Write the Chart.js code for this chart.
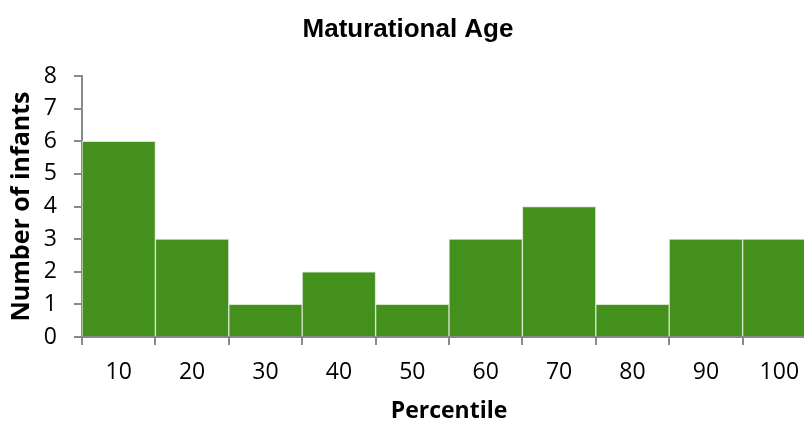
<!DOCTYPE html>
<html>
<head>
<meta charset="utf-8">
<script src="https://cdn.jsdelivr.net/npm/chart.js@4.4.1/dist/chart.umd.min.js"></script>
<style>
  html, body { margin: 0; padding: 0; background: #fff; overflow: hidden; }
  /* the original plot runs past the right edge, so the canvas is wider than the window */
  #clip { width: 804px; height: 421px; overflow: hidden; }
  #wrap { width: 816px; height: 421px; }
</style>
</head>
<body>
<div id="clip"><div id="wrap"><canvas id="chart"></canvas></div></div>
<script>
const PERCENTILES = ["10", "20", "30", "40", "50", "60", "70", "80", "90", "100"];
const INFANTS     = [6, 3, 1, 2, 1, 3, 4, 1, 3, 3];
const Y_MAX = 8;

const BAR_COLOR  = "#43901d";
const EDGE_COLOR = "#d9e6cf";
const AXIS_COLOR = "#8a8a8a";
const TICK_FONT  = { family: "'Open Sans', sans-serif", size: 23 };

new Chart(document.getElementById("chart"), {
  type: "bar",
  data: {
    labels: PERCENTILES,
    datasets: [{
      data: INFANTS,
      backgroundColor: BAR_COLOR,
      borderColor: EDGE_COLOR,
      borderWidth: 1,
      categoryPercentage: 1.0,
      barPercentage: 1.0,
    }],
  },
  options: {
    responsive: true,
    maintainAspectRatio: false,
    animation: false,
    layout: { padding: 0 },
    plugins: {
      legend: { display: false },
      tooltip: { enabled: false },
      title: {
        display: true,
        text: "Maturational Age",
        color: "#000",
        font: { family: "'Liberation Sans', Arial, sans-serif", size: 26, weight: "bold" },
        padding: { top: 14, bottom: 30.8 },
      },
    },
    scales: {
      x: {
        offset: true,
        grid: { offset: true, drawOnChartArea: false, tickLength: 8, color: AXIS_COLOR, lineWidth: 2 },
        border: { color: AXIS_COLOR, width: 2 },
        ticks: { color: "#000", font: TICK_FONT, padding: 14, maxRotation: 0 },
        title: {
          display: true,
          text: "Percentile",
          color: "#000",
          font: { family: "'Open Sans', sans-serif", size: 23, weight: "bold" },
          padding: { top: 0, bottom: -4 },
        },
        afterFit: s => { s.height = 84; },
      },
      y: {
        min: 0,
        max: Y_MAX,
        grid: { drawOnChartArea: false, tickLength: 8, color: AXIS_COLOR, lineWidth: 2 },
        border: { color: AXIS_COLOR, width: 2 },
        ticks: { color: "#000", font: TICK_FONT, stepSize: 1, padding: 17 },
        title: {
          display: true,
          text: "Number of infants",
          color: "#000",
          font: { family: "'Open Sans', sans-serif", size: 25, weight: "bold" },
          padding: { top: 7, bottom: 0 },
        },
        afterFit: s => { s.width = 82; },
      },
    },
  },
});
</script>
</body>
</html>
